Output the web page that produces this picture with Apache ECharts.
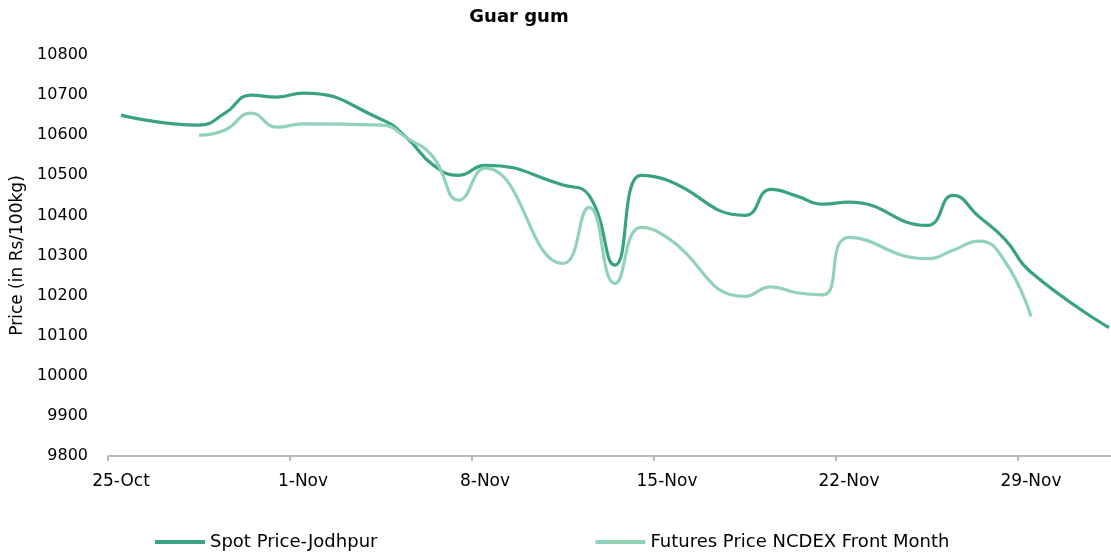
<!DOCTYPE html>
<html>
<head>
<meta charset="utf-8">
<script src="https://cdn.jsdelivr.net/npm/echarts@6/dist/echarts.min.js"></script>
<style>
html,body{margin:0;padding:0;background:#fff;}
#chart{width:1111px;height:555px;}
</style>
</head>
<body>
<div id="chart"></div>
<script>
var categories = [
  '25-Oct','26-Oct','27-Oct','28-Oct','29-Oct','30-Oct','31-Oct',
  '1-Nov','2-Nov','3-Nov','4-Nov','5-Nov','6-Nov','7-Nov',
  '8-Nov','9-Nov','10-Nov','11-Nov','12-Nov','13-Nov','14-Nov',
  '15-Nov','16-Nov','17-Nov','18-Nov','19-Nov','20-Nov','21-Nov',
  '22-Nov','23-Nov','24-Nov','25-Nov','26-Nov','27-Nov','28-Nov',
  '29-Nov','30-Nov','1-Dec','2-Dec'
];
var spotPrice = [
  10650, null, null, 10625, 10655, 10700, 10695,
  10705, null, null, 10640, 10593, 10526, 10500,
  10525, null, null, 10476, 10450, 10276, 10500,
  10488, null, null, 10400, 10465, 10448, 10428,
  10433, null, null, 10375, 10450, 10397, 10340,
  10258, null, null, 10120
];
var futuresPrice = [
  null, null, null, 10600, 10613, 10655, 10620,
  10628, null, null, 10625, 10593, 10546, 10438,
  10518, null, null, 10280, 10420, 10230, 10370,
  10345, null, null, 10198, 10222, 10207, 10202,
  10345, null, null, 10292, 10313, 10336, 10285,
  10148, null, null, null
];
var yTicks = {min: 9800, max: 10800, step: 100};

var spotColor = '#38a281';
var futColor = '#92d2b7';
var font = 'DejaVu Sans';

var chart = echarts.init(document.getElementById('chart'), null, {renderer: 'canvas'});
chart.setOption({
  animation: false,
  backgroundColor: '#ffffff',
  title: {
    text: 'Guar gum',
    left: 519, top: 8,
    textAlign: 'center',
    padding: 0,
    textStyle: {fontFamily: font, fontSize: 18, fontWeight: 'bold', color: '#000'}
  },
  legend: {
    left: 155, top: 533,
    padding: 0,
    itemGap: 218,
    itemWidth: 50, itemHeight: 4,
    icon: 'rect',
    textStyle: {fontFamily: font, fontSize: 18, color: '#000'},
    data: [
      {name: 'Spot Price-Jodhpur', itemStyle: {color: spotColor}},
      {name: 'Futures Price NCDEX Front Month', itemStyle: {color: futColor}}
    ]
  },
  grid: {left: 108, top: 55, width: 1014, height: 401, outerBoundsMode: 'none', containLabel: false},
  xAxis: {
    type: 'category',
    data: categories,
    boundaryGap: true,
    axisLine: {lineStyle: {color: '#a6a6a6', width: 1.5}},
    axisTick: {show: true, interval: 6, length: 5, lineStyle: {color: '#a6a6a6', width: 1.5}},
    axisLabel: {interval: 6, margin: 17, fontFamily: font, fontSize: 17, color: '#000'},
    splitLine: {show: false}
  },
  yAxis: {
    type: 'value',
    min: yTicks.min, max: yTicks.max, interval: yTicks.step,
    name: 'Price (in Rs/100kg)',
    nameLocation: 'middle',
    nameRotate: 90,
    nameGap: 80,
    nameTextStyle: {fontFamily: font, fontSize: 17, color: '#000'},
    axisLine: {show: false},
    axisTick: {show: false},
    splitLine: {show: false},
    axisLabel: {margin: 20, fontFamily: font, fontSize: 16, color: '#000',
      formatter: function (v) { return String(v); }}
  },
  series: [
    {
      name: 'Spot Price-Jodhpur', type: 'line', data: spotPrice,
      smooth: 0.5, connectNulls: true, showSymbol: false, symbol: 'none',
      lineStyle: {color: spotColor, width: 3.2},
      itemStyle: {color: spotColor}
    },
    {
      name: 'Futures Price NCDEX Front Month', type: 'line', data: futuresPrice,
      smooth: 0.5, connectNulls: true, showSymbol: false, symbol: 'none',
      lineStyle: {color: futColor, width: 3.2},
      itemStyle: {color: futColor}
    }
  ]
});
</script>
</body>
</html>
